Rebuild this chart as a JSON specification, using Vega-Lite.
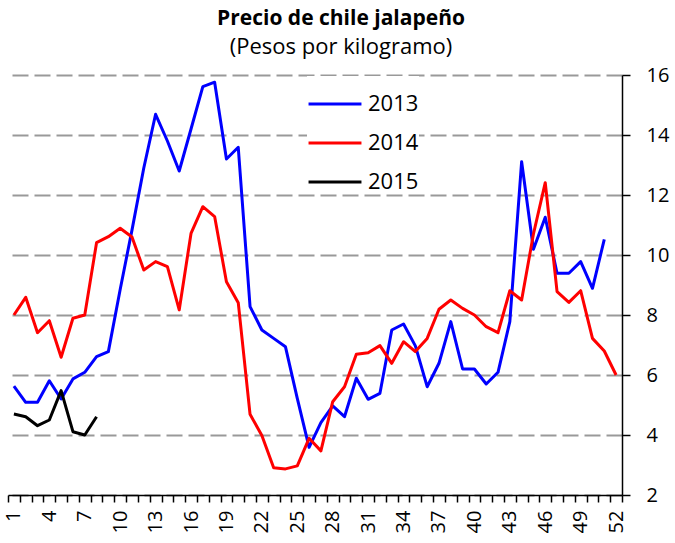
{
  "$schema": "https://vega.github.io/schema/vega-lite/v6.json",
  "width": 614,
  "height": 420,
  "autosize": {"type": "none"},
  "padding": {"left": 8, "top": 75, "right": 53, "bottom": 48},
  "background": "white",
  "title": {
    "text": "Precio de chile jalapeño",
    "subtitle": "(Pesos por kilogramo)",
    "font": "Open Sans",
    "fontSize": 21,
    "fontWeight": "bold",
    "color": "black",
    "subtitleFont": "Open Sans",
    "subtitleFontSize": 22,
    "subtitleColor": "black",
    "subtitlePadding": 8,
    "anchor": "middle",
    "dx": 26,
    "offset": 7
  },
  "config": {"view": {"stroke": null}},
  "data": {
    "values": [
      {"year": "2013", "week": 1, "price": 5.63},
      {"year": "2013", "week": 2, "price": 5.09},
      {"year": "2013", "week": 3, "price": 5.09},
      {"year": "2013", "week": 4, "price": 5.81},
      {"year": "2013", "week": 5, "price": 5.2},
      {"year": "2013", "week": 6, "price": 5.87},
      {"year": "2013", "week": 7, "price": 6.09},
      {"year": "2013", "week": 8, "price": 6.61},
      {"year": "2013", "week": 9, "price": 6.78},
      {"year": "2013", "week": 10, "price": 8.85},
      {"year": "2013", "week": 11, "price": 10.83},
      {"year": "2013", "week": 12, "price": 12.9},
      {"year": "2013", "week": 13, "price": 14.69},
      {"year": "2013", "week": 14, "price": 13.8},
      {"year": "2013", "week": 15, "price": 12.8},
      {"year": "2013", "week": 16, "price": 14.2},
      {"year": "2013", "week": 17, "price": 15.61},
      {"year": "2013", "week": 18, "price": 15.76},
      {"year": "2013", "week": 19, "price": 13.2},
      {"year": "2013", "week": 20, "price": 13.59},
      {"year": "2013", "week": 21, "price": 8.28},
      {"year": "2013", "week": 22, "price": 7.5},
      {"year": "2013", "week": 23, "price": 7.22},
      {"year": "2013", "week": 24, "price": 6.94},
      {"year": "2013", "week": 25, "price": 5.22},
      {"year": "2013", "week": 26, "price": 3.59},
      {"year": "2013", "week": 27, "price": 4.41},
      {"year": "2013", "week": 28, "price": 4.97},
      {"year": "2013", "week": 29, "price": 4.61},
      {"year": "2013", "week": 30, "price": 5.89},
      {"year": "2013", "week": 31, "price": 5.19},
      {"year": "2013", "week": 32, "price": 5.39},
      {"year": "2013", "week": 33, "price": 7.5},
      {"year": "2013", "week": 34, "price": 7.7},
      {"year": "2013", "week": 35, "price": 6.97},
      {"year": "2013", "week": 36, "price": 5.61},
      {"year": "2013", "week": 37, "price": 6.39},
      {"year": "2013", "week": 38, "price": 7.78},
      {"year": "2013", "week": 39, "price": 6.2},
      {"year": "2013", "week": 40, "price": 6.2},
      {"year": "2013", "week": 41, "price": 5.7},
      {"year": "2013", "week": 42, "price": 6.09},
      {"year": "2013", "week": 43, "price": 7.78},
      {"year": "2013", "week": 44, "price": 13.11},
      {"year": "2013", "week": 45, "price": 10.19},
      {"year": "2013", "week": 46, "price": 11.26},
      {"year": "2013", "week": 47, "price": 9.39},
      {"year": "2013", "week": 48, "price": 9.39},
      {"year": "2013", "week": 49, "price": 9.78},
      {"year": "2013", "week": 50, "price": 8.89},
      {"year": "2013", "week": 51, "price": 10.52},
      {"year": "2014", "week": 1, "price": 8.0},
      {"year": "2014", "week": 2, "price": 8.59},
      {"year": "2014", "week": 3, "price": 7.41},
      {"year": "2014", "week": 4, "price": 7.81},
      {"year": "2014", "week": 5, "price": 6.59},
      {"year": "2014", "week": 6, "price": 7.89},
      {"year": "2014", "week": 7, "price": 8.0},
      {"year": "2014", "week": 8, "price": 10.41},
      {"year": "2014", "week": 9, "price": 10.61},
      {"year": "2014", "week": 10, "price": 10.89},
      {"year": "2014", "week": 11, "price": 10.6},
      {"year": "2014", "week": 12, "price": 9.5},
      {"year": "2014", "week": 13, "price": 9.78},
      {"year": "2014", "week": 14, "price": 9.61},
      {"year": "2014", "week": 15, "price": 8.17},
      {"year": "2014", "week": 16, "price": 10.72},
      {"year": "2014", "week": 17, "price": 11.61},
      {"year": "2014", "week": 18, "price": 11.28},
      {"year": "2014", "week": 19, "price": 9.11},
      {"year": "2014", "week": 20, "price": 8.41},
      {"year": "2014", "week": 21, "price": 4.69},
      {"year": "2014", "week": 22, "price": 3.98},
      {"year": "2014", "week": 23, "price": 2.91},
      {"year": "2014", "week": 24, "price": 2.87},
      {"year": "2014", "week": 25, "price": 2.97},
      {"year": "2014", "week": 26, "price": 3.89},
      {"year": "2014", "week": 27, "price": 3.47},
      {"year": "2014", "week": 28, "price": 5.11},
      {"year": "2014", "week": 29, "price": 5.61},
      {"year": "2014", "week": 30, "price": 6.69},
      {"year": "2014", "week": 31, "price": 6.74},
      {"year": "2014", "week": 32, "price": 6.98},
      {"year": "2014", "week": 33, "price": 6.39},
      {"year": "2014", "week": 34, "price": 7.11},
      {"year": "2014", "week": 35, "price": 6.78},
      {"year": "2014", "week": 36, "price": 7.22},
      {"year": "2014", "week": 37, "price": 8.19},
      {"year": "2014", "week": 38, "price": 8.5},
      {"year": "2014", "week": 39, "price": 8.22},
      {"year": "2014", "week": 40, "price": 8.0},
      {"year": "2014", "week": 41, "price": 7.61},
      {"year": "2014", "week": 42, "price": 7.41},
      {"year": "2014", "week": 43, "price": 8.81},
      {"year": "2014", "week": 44, "price": 8.5},
      {"year": "2014", "week": 45, "price": 10.7},
      {"year": "2014", "week": 46, "price": 12.41},
      {"year": "2014", "week": 47, "price": 8.78},
      {"year": "2014", "week": 48, "price": 8.42},
      {"year": "2014", "week": 49, "price": 8.81},
      {"year": "2014", "week": 50, "price": 7.22},
      {"year": "2014", "week": 51, "price": 6.8},
      {"year": "2014", "week": 52, "price": 6.0},
      {"year": "2015", "week": 1, "price": 4.7},
      {"year": "2015", "week": 2, "price": 4.61},
      {"year": "2015", "week": 3, "price": 4.31},
      {"year": "2015", "week": 4, "price": 4.5},
      {"year": "2015", "week": 5, "price": 5.48},
      {"year": "2015", "week": 6, "price": 4.11},
      {"year": "2015", "week": 7, "price": 4.0},
      {"year": "2015", "week": 8, "price": 4.61}
    ]
  },
  "mark": {"type": "line", "strokeWidth": 3, "strokeJoin": "round"},
  "encoding": {
    "x": {
      "field": "week",
      "type": "ordinal",
      "bandPosition": 0.5,
      "scale": {"type": "band", "paddingInner": 0, "paddingOuter": 0},
      "axis": {
        "title": null,
        "grid": false,
        "domainColor": "black",
        "domainWidth": 1.5,
        "tickColor": "black",
        "tickWidth": 1.5,
        "tickSize": 7,
        "tickBand": "extent",
        "labelAngle": 270,
        "labelAlign": "right",
        "labelBaseline": "middle",
        "labelFont": "Open Sans",
        "labelFontSize": 20,
        "labelColor": "black",
        "labelPadding": 8,
        "labelOverlap": false,
        "labelExpr": "(datum.value - 1) % 3 == 0 ? datum.label : ''"
      }
    },
    "y": {
      "field": "price",
      "type": "quantitative",
      "scale": {"domain": [2, 16], "nice": false, "zero": false},
      "axis": {
        "orient": "right",
        "title": null,
        "values": [2, 4, 6, 8, 10, 12, 14, 16],
        "grid": true,
        "gridColor": "#999999",
        "gridWidth": 2,
        "gridDash": [16, 6],
        "domainColor": "black",
        "domainWidth": 1.5,
        "tickColor": "black",
        "tickWidth": 1.5,
        "tickSize": 8,
        "labelFont": "Open Sans",
        "labelFontSize": 20,
        "labelColor": "black",
        "labelPadding": 16
      }
    },
    "color": {
      "field": "year",
      "type": "nominal",
      "scale": {"domain": ["2013", "2014", "2015"], "range": ["#0000FF", "#FF0000", "#000000"]},
      "legend": {
        "title": null,
        "orient": "none",
        "legendX": 299,
        "legendY": 1,
        "fillColor": "white",
        "padding": 0,
        "symbolType": "stroke",
        "symbolSize": 2800,
        "symbolStrokeWidth": 3,
        "labelFont": "Open Sans",
        "labelFontSize": 22,
        "labelColor": "black",
        "labelOffset": 5,
        "rowPadding": 0
      }
    }
  }
}
